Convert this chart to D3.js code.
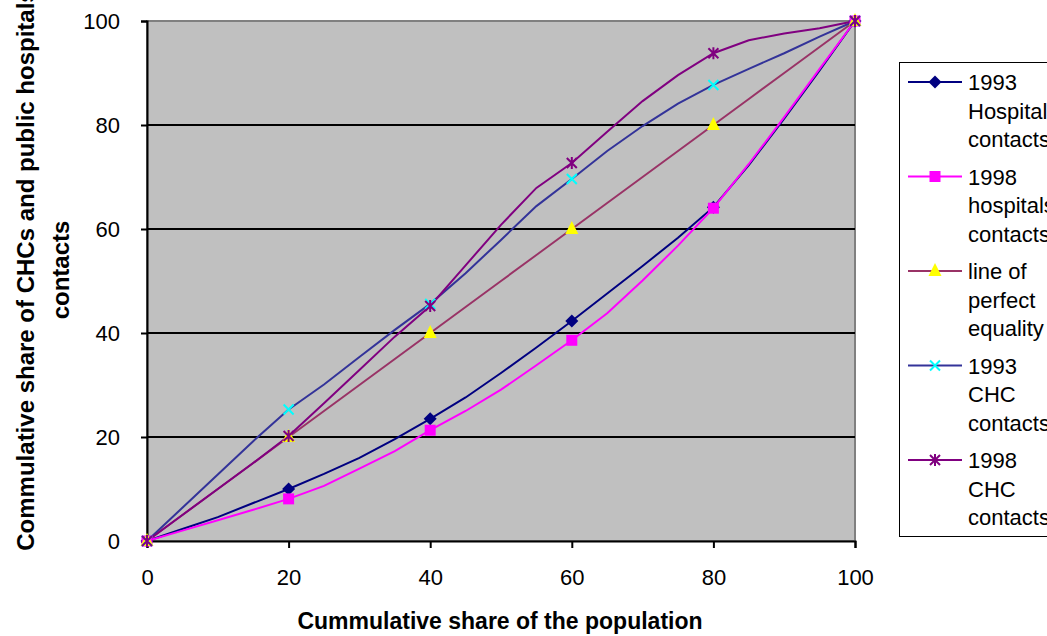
<!DOCTYPE html>
<html>
<head>
<meta charset="utf-8">
<script src="https://cdn.jsdelivr.net/npm/d3@7"></script>
<style>
  body { margin: 0; background: #fff; }
  svg { display: block; font-family: Arial, "Liberation Sans", sans-serif; }
</style>
</head>
<body>
<svg id="chart" width="1047" height="636"></svg>
<script>
// population share (x), one value every 5 %
const popShare = [0, 5, 10, 15, 20, 25, 30, 35, 40, 45, 50, 55, 60, 65, 70, 75, 80, 85, 90, 95, 100];
// markers only sit on every 20 %
const markerShare = [0, 20, 40, 60, 80, 100];

const hosp1993 = [0, 2.3, 4.6, 7.3, 10, 12.9, 16, 19.6, 23.5, 27.6, 32.3, 37.2, 42.3, 47.6, 52.9, 58.3, 64.2, 72.3, 81.2, 90.5, 100];
const hosp1998 = [0, 2, 4, 6, 8.1, 10.6, 13.9, 17.3, 21.3, 25, 29.1, 33.8, 38.6, 43.8, 50.1, 56.8, 64, 72.5, 81.5, 90.8, 100];
const equality = [0, 5, 10, 15, 20, 25, 30, 35, 40, 45, 50, 55, 60, 65, 70, 75, 80, 85, 90, 95, 100];
const chc1993 = [0, 6.4, 12.8, 19.2, 25.3, 30.1, 35.4, 40.6, 45.6, 51.5, 57.9, 64.4, 69.6, 75, 79.8, 84.1, 87.7, 90.8, 93.8, 97, 100];
const chc1998 = [0, 5, 10, 15, 20.2, 26.5, 32.9, 39.3, 45.2, 53, 60.8, 67.9, 72.7, 78.7, 84.6, 89.6, 93.8, 96.3, 97.6, 98.6, 100];

const xTicks = [0, 20, 40, 60, 80, 100];
const yTicks = [0, 20, 40, 60, 80, 100];

const seriesNames = [
    ['1993', 'Hospital', 'contacts'],
    ['1998', 'hospitals', 'contacts'],
    ['line of', 'perfect', 'equality'],
    ['1993', 'CHC', 'contacts'],
    ['1998', 'CHC', 'contacts']
];

const series = [
    {values: hosp1993, line: '#000080', marker: 'diamond', fill: '#000080'},
    {values: hosp1998, line: '#FF00FF', marker: 'square', fill: '#FF00FF'},
    {values: equality, line: '#993366', marker: 'triangle', fill: '#FFFF00'},
    {values: chc1993, line: '#333399', marker: 'x', fill: '#00FFFF'},
    {values: chc1998, line: '#800080', marker: 'star', fill: '#800080'}
];

const svg = d3.select('#chart');
const plot = {left: 147, top: 21, right: 855, bottom: 541};
const labelFont = '22px';
const titleFont = '23px';

const x = d3.scaleLinear().domain([0, 100]).range([plot.left, plot.right]);
const y = d3.scaleLinear().domain([0, 100]).range([plot.bottom, plot.top]);

// plot background
svg.append('rect')
    .attr('x', plot.left).attr('y', plot.top)
    .attr('width', plot.right - plot.left).attr('height', plot.bottom - plot.top)
    .attr('fill', '#C0C0C0')
    .attr('stroke', '#808080').attr('stroke-width', 2);

// gridlines
svg.append('g')
    .selectAll('line')
    .data(yTicks.filter(t => t > 0 && t < 100))
    .join('line')
    .attr('x1', plot.left).attr('x2', plot.right)
    .attr('y1', d => y(d)).attr('y2', d => y(d))
    .attr('stroke', '#000').attr('stroke-width', 2);

// axes
let yAxis = svg.append('g')
    .attr('transform', `translate(${plot.left},0)`)
    .call(d3.axisLeft(y).tickValues(yTicks).tickSize(6).tickPadding(21));
let xAxis = svg.append('g')
    .attr('transform', `translate(0,${plot.bottom})`)
    .call(d3.axisBottom(x).tickValues(xTicks).tickSize(7).tickPadding(21));

[yAxis, xAxis].forEach(ax => {
    ax.select('.domain').attr('stroke', '#000').attr('stroke-width', 2);
    ax.selectAll('.tick line').attr('stroke', '#000').attr('stroke-width', 2);
    ax.selectAll('.tick text')
        .attr('fill', '#000')
        .style('font-size', labelFont)
        .style('font-family', 'Arial, "Liberation Sans", sans-serif');
});
yAxis.selectAll('.tick text').attr('dy', '0.35em');

// marker shapes
function markerPath(kind) {
    if (kind === 'diamond') return 'M0,-6.5L6.5,0L0,6.5L-6.5,0Z';
    if (kind === 'square') return 'M-5.5,-5.5H5.5V5.5H-5.5Z';
    if (kind === 'triangle') return 'M0,-8L6.5,5L-6.5,5Z';
    if (kind === 'x') return 'M-5,-5L5,5M-5,5L5,-5';
    // asterisk
    return 'M-5,-5L5,5M-5,5L5,-5M0,-6L0,6';
}

function drawMarker(g, kind, fill, cx, cy) {
    let p = g.append('path')
        .attr('d', markerPath(kind))
        .attr('transform', `translate(${cx},${cy})`);
    if (kind === 'x' || kind === 'star') {
        p.attr('fill', 'none').attr('stroke', fill).attr('stroke-width', 2);
    } else {
        p.attr('fill', fill).attr('stroke', 'none');
    }
}

const line = d3.line()
    .x((d, i) => x(popShare[i]))
    .y(d => y(d));

const linesG = svg.append('g');
series.forEach(s => {
    linesG.append('path')
        .attr('d', line(s.values))
        .attr('fill', 'none')
        .attr('stroke', s.line)
        .attr('stroke-width', 2);
});

const markersG = svg.append('g');
series.forEach(s => {
    markerShare.forEach(m => {
        let i = popShare.indexOf(m);
        drawMarker(markersG, s.marker, s.fill, x(m), y(s.values[i]));
    });
});

// legend (its right side runs past the picture edge, as in the original)
const legend = svg.append('g');
legend.append('rect')
    .attr('x', 899.5).attr('y', 62.5)
    .attr('width', 160).attr('height', 474)
    .attr('fill', '#fff').attr('stroke', '#000').attr('stroke-width', 1);

series.forEach((s, i) => {
    let top = 82 + i * 94.5;
    legend.append('line')
        .attr('x1', 908).attr('x2', 962)
        .attr('y1', top).attr('y2', top)
        .attr('stroke', s.line).attr('stroke-width', 2);
    drawMarker(legend, s.marker, s.fill, 935, top);
    let t = legend.append('text')
        .attr('x', 968).attr('y', top + 8)
        .style('font-size', labelFont)
        .attr('fill', '#000');
    seriesNames[i].forEach((word, k) => {
        t.append('tspan')
            .attr('x', 968)
            .attr('dy', k === 0 ? 0 : 28.5)
            .text(word);
    });
});

// axis titles
svg.append('text')
    .attr('x', 500).attr('y', 629)
    .attr('text-anchor', 'middle')
    .style('font-size', titleFont).style('font-weight', 'bold')
    .text('Cummulative share of the population');

const yTitle = svg.append('g').attr('transform', 'translate(0,270) rotate(-90)');
yTitle.append('text')
    .attr('x', 0).attr('y', 34)
    .attr('text-anchor', 'middle')
    .style('font-size', '24px').style('font-weight', 'bold')
    .text('Commulative share of CHCs and public hospitals');
yTitle.append('text')
    .attr('x', 0).attr('y', 69)
    .attr('text-anchor', 'middle')
    .style('font-size', '24px').style('font-weight', 'bold')
    .text('contacts');
</script>
</body>
</html>
